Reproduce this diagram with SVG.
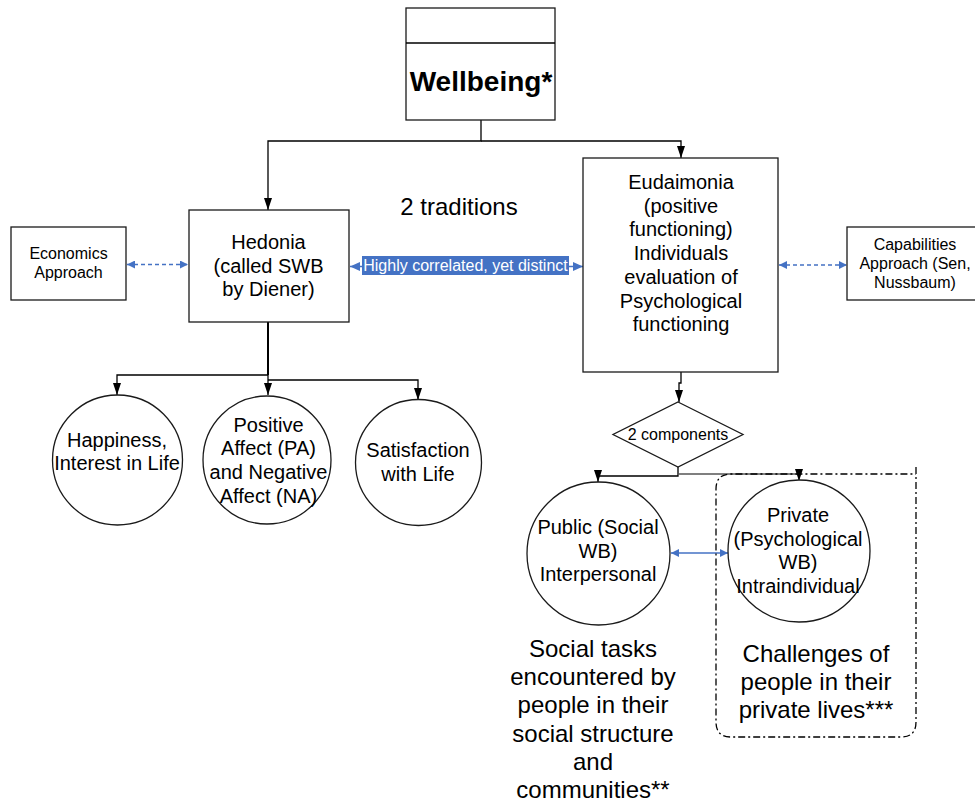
<svg xmlns="http://www.w3.org/2000/svg" width="975" height="805" viewBox="0 0 975 805">
  <style>
    .box { fill: #fff; stroke: #1a1a1a; stroke-width: 1.3; }
    .line { fill: none; stroke: #000; stroke-width: 1.3; }
    .blue { fill: none; stroke: #4472C4; stroke-width: 1.3; }
    .dashblue { fill: none; stroke: #4472C4; stroke-width: 1.3; stroke-dasharray: 4 3; }
    .t { font-family: "Liberation Sans", Arial, sans-serif; fill: #000; text-anchor: middle; }
  </style>
  <defs>
    <marker id="ah" viewBox="0 0 12 8" refX="12" refY="4" markerWidth="12" markerHeight="8" markerUnits="userSpaceOnUse" orient="auto">
      <path d="M0,0 L12,4 L0,8 z" fill="#000"/>
    </marker>
    <marker id="bh" viewBox="0 0 10 9" refX="10" refY="4.5" markerWidth="10" markerHeight="9" markerUnits="userSpaceOnUse" orient="auto-start-reverse">
      <path d="M0,0 L10,4.5 L0,9 z" fill="#4472C4"/>
    </marker>
    <marker id="bs" viewBox="0 0 8 8" refX="8" refY="4" markerWidth="8" markerHeight="8" markerUnits="userSpaceOnUse" orient="auto-start-reverse">
      <path d="M0,0 L8,4 L0,8 z" fill="#4472C4"/>
    </marker>
  </defs>

  <!-- connectors -->
  <g id="connectors">
    <path class="line" d="M481,120 V141 H268 V210" marker-end="url(#ah)"/>
    <path class="line" d="M481,141 H681 V158" marker-end="url(#ah)"/>
    <path class="line" style="stroke-width:2" d="M268,322 V375"/>
    <path class="line" d="M268,375 H117 V395" marker-end="url(#ah)"/>
    <path class="line" d="M268,375 V395" marker-end="url(#ah)"/>
    <path class="line" d="M268,380 H418 V400" marker-end="url(#ah)"/>
    <path class="line" d="M681,372 V383 H679 V402" marker-end="url(#ah)"/>
    <path class="line" d="M678,467 V476 H598 V482" marker-end="url(#ah)"/>
    <path class="line" style="stroke:#555" d="M678,467 V474 H799 V481" marker-end="url(#ah)"/>
    <path class="dashblue" d="M127,264.5 H188" marker-start="url(#bs)" marker-end="url(#bs)"/>
    <path class="dashblue" d="M779,265 H847" marker-start="url(#bs)" marker-end="url(#bs)"/>
    <path class="blue" d="M350,266.5 H583" marker-start="url(#bh)" marker-end="url(#bh)"/>
    <path class="blue" d="M671,553 H728" marker-start="url(#bs)" marker-end="url(#bs)"/>
    <g id="label-correlated">
      <rect x="362" y="256" width="207" height="19" fill="#4472C4"/>
      <text class="t" x="465.5" y="270.5" font-size="16" fill="#fff" style="fill:#fff">Highly correlated, yet distinct</text>
    </g>
  </g>

  <g id="wellbeing">
    <rect class="box" x="406" y="8" width="149" height="112"/>
    <line class="line" x1="406" y1="43" x2="555" y2="43"/>
    <text class="t" x="481" y="91" font-size="28" font-weight="bold">Wellbeing*</text>
  </g>

  <text class="t" x="459" y="215" font-size="24">2 traditions</text>

  <g id="economics">
    <rect class="box" x="11" y="227" width="115" height="73"/>
    <text class="t" x="68.5" y="259" font-size="16">Economics</text>
    <text class="t" x="68.5" y="278" font-size="16">Approach</text>
  </g>

  <g id="hedonia">
    <rect class="box" x="189" y="210" width="160" height="112"/>
    <text class="t" x="268.5" y="249" font-size="20">Hedonia</text>
    <text class="t" x="268.5" y="272.7" font-size="20">(called SWB</text>
    <text class="t" x="268.5" y="296.4" font-size="20">by Diener)</text>
  </g>

  <g id="eudaimonia">
    <rect class="box" x="583" y="158" width="195" height="214"/>
    <text class="t" x="681" y="189" font-size="20">Eudaimonia</text>
    <text class="t" x="681" y="212.7" font-size="20">(positive</text>
    <text class="t" x="681" y="236.4" font-size="20">functioning)</text>
    <text class="t" x="681" y="260.1" font-size="20">Individuals</text>
    <text class="t" x="681" y="283.8" font-size="20">evaluation of</text>
    <text class="t" x="681" y="307.5" font-size="20">Psychological</text>
    <text class="t" x="681" y="331.2" font-size="20">functioning</text>
  </g>

  <g id="capabilities">
    <rect class="box" x="847" y="227" width="140" height="73"/>
    <text class="t" x="915" y="250" font-size="16">Capabilities</text>
    <text class="t" x="915" y="269" font-size="16">Approach (Sen,</text>
    <text class="t" x="915" y="288" font-size="16">Nussbaum)</text>
  </g>

  <g id="happiness">
    <circle class="box" cx="117.5" cy="460" r="65"/>
    <text class="t" x="117" y="447" font-size="20">Happiness,</text>
    <text class="t" x="117" y="469.5" font-size="20">Interest in Life</text>
  </g>

  <g id="affect">
    <circle class="box" cx="267" cy="460" r="64"/>
    <text class="t" x="268.5" y="431.5" font-size="20">Positive</text>
    <text class="t" x="268.5" y="455.2" font-size="20">Affect (PA)</text>
    <text class="t" x="268.5" y="478.9" font-size="20">and Negative</text>
    <text class="t" x="268.5" y="502.6" font-size="20">Affect (NA)</text>
  </g>

  <g id="satisfaction">
    <circle class="box" cx="418.5" cy="462.5" r="63"/>
    <text class="t" x="418" y="456.5" font-size="20">Satisfaction</text>
    <text class="t" x="418" y="480.5" font-size="20">with Life</text>
  </g>

  <g id="components">
    <polygon class="box" points="678,402 743,434.5 678,467 613,434.5"/>
    <text class="t" x="678" y="439.5" font-size="16">2 components</text>
  </g>

  <g id="public">
    <circle class="box" cx="598.5" cy="553.5" r="71.5"/>
    <text class="t" x="598" y="534" font-size="20">Public (Social</text>
    <text class="t" x="598" y="557.7" font-size="20">WB)</text>
    <text class="t" x="598" y="581.4" font-size="20">Interpersonal</text>
  </g>

  <g id="private-frame">
    <path fill="none" stroke="#000" stroke-width="1.3" stroke-dasharray="7 3 2 3" d="M916,467 V722 Q916,737 901,737 H731 Q716,737 716,722 V489 Q716,474 731,474 H916"/>
  </g>

  <g id="private">
    <circle class="box" cx="799" cy="551" r="71"/>
    <text class="t" x="798" y="522" font-size="20">Private</text>
    <text class="t" x="798" y="545.7" font-size="20">(Psychological</text>
    <text class="t" x="798" y="569.4" font-size="20">WB)</text>
    <text class="t" x="798" y="593" font-size="20">Intraindividual</text>
  </g>

  <g id="social-tasks">
    <text class="t" x="593" y="657" font-size="24">Social tasks</text>
    <text class="t" x="593" y="685.2" font-size="24">encountered by</text>
    <text class="t" x="593" y="713.4" font-size="24">people in their</text>
    <text class="t" x="593" y="741.6" font-size="24">social structure</text>
    <text class="t" x="593" y="769.8" font-size="24">and</text>
    <text class="t" x="593" y="798" font-size="24">communities**</text>
  </g>

  <g id="challenges">
    <text class="t" x="816" y="662" font-size="24">Challenges of</text>
    <text class="t" x="816" y="690" font-size="24">people in their</text>
    <text class="t" x="816" y="718" font-size="24">private lives***</text>
  </g>
</svg>
